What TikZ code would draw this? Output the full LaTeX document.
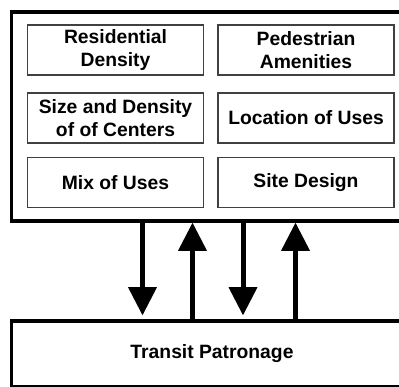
\documentclass[tikz,border=0pt]{standalone}
\usepackage{fontspec}
\setmainfont{Liberation Sans}
\usetikzlibrary{arrows.meta}
\begin{document}
\begin{tikzpicture}[x=1pt,y=-1pt,
  framebox/.style={draw=black,line width=3.6pt,inner sep=0pt},
  label font/.style={font=\fontsize{19.3}{23}\selectfont\bfseries},
  factor/.style={draw=black!75,line width=1.3pt,minimum width=176pt,minimum height=50pt,
    inner sep=0pt,align=center,label font},
  flow/.style={line width=5pt,-{Triangle[width=29pt,length=28pt,line width=0pt]}}
]
\useasboundingbox (0,0) rectangle (399,386);
\clip (0,0) rectangle (399,386);

% outer frame holding the land-use factors
\node[framebox,minimum width=401pt,minimum height=209pt] (frame) at (212,116.5) {};

% land-use factors
\node[factor] (resd) at (115.5,50) {Residential\\Density};
\node[factor] (ped)  at (306,50)   {Pedestrian\\Amenities};
\node[factor] (size) at (115.5,118) {Size and Density\\of of Centers};
\node[factor] (loc)  at (306,118)  {Location of Uses};
\node[factor] (mix)  at (115.5,182.5) {Mix of Uses};
\node[factor] (site) at (306,182.5) {Site Design};

% transit patronage box
\node[framebox,minimum width=401pt,minimum height=65.5pt,label font] (trans)
  at (212,353.75) {Transit Patronage};

% columns of the four arrows
\coordinate (a1) at (142.5,0);
\coordinate (a2) at (192.5,0);
\coordinate (a3) at (243,0);
\coordinate (a4) at (295.5,0);

\draw[flow,shorten >=4pt] (a1 |- frame.south) -- (a1 |- trans.north);
\draw[flow] (a2 |- trans.north) -- (a2 |- frame.south);
\draw[flow,shorten >=4pt] (a3 |- frame.south) -- (a3 |- trans.north);
\draw[flow] (a4 |- trans.north) -- (a4 |- frame.south);
\end{tikzpicture}
\end{document}
